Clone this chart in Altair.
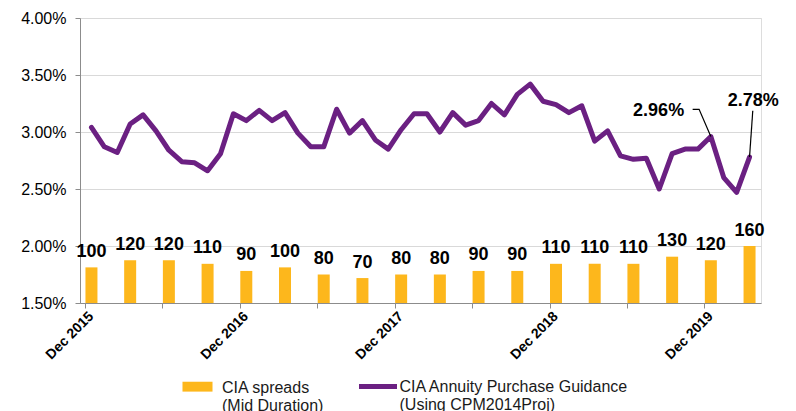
import json
import altair as alt
import pandas as pd

# ---------------- data ----------------
months = pd.date_range("2015-12-01", "2020-03-01", freq="MS")  # 52 monthly points

guidance = [3.04, 2.87, 2.82, 3.07, 3.15, 3.01, 2.84, 2.74, 2.73, 2.66,
            2.81, 3.16, 3.10, 3.19, 3.10, 3.17, 2.99, 2.87, 2.87, 3.20,
            2.99, 3.10, 2.93, 2.85, 3.02, 3.16, 3.16, 3.00, 3.17, 3.06,
            3.10, 3.25, 3.15, 3.33, 3.42, 3.27, 3.24, 3.17, 3.23, 2.92,
            3.01, 2.79, 2.76, 2.77, 2.50, 2.81, 2.85, 2.85, 2.96, 2.60,
            2.47, 2.78]

spread_bps = [100, 120, 120, 110, 90, 100, 80, 70, 80, 80, 90, 90,
              110, 110, 110, 130, 120, 160]          # quarterly, Dec 2015 .. Mar 2020

year_labels = ["Dec 2015", "Dec 2016", "Dec 2017", "Dec 2018", "Dec 2019"]
y_ticks = [1.5, 2.0, 2.5, 3.0, 3.5, 4.0]

series_bar = "CIA spreads|(Mid Duration)"
series_line = "CIA Annuity Purchase Guidance|(Using CPM2014Proj)"

# annotations: leader lines (month index, rate) and label anchors
leader_id = ["a", "a", "a", "b", "b"]
leader_x = [48, 47.09, 46.59, 51, 51.25]
leader_y = [2.96, 3.199, 3.199, 2.78, 3.187]
leader_order = [0, 1, 2, 0, 1]

ann1_x, ann1_y, ann1_text = [46.59], [3.199], ["2.96%"]
ann2_x, ann2_y, ann2_text = [51.25], [3.187], ["2.78%"]

ORANGE = "#FDB71C"
PURPLE = "#6B2082"
FONT = "Liberation Sans"

line_df = pd.DataFrame({"idx": list(range(len(guidance))),
                        "month": months.strftime("%b %Y"),
                        "rate": guidance,
                        "series": series_line})
bar_df = pd.DataFrame({"idx": list(range(0, len(guidance), 3)),
                       "bps": spread_bps,
                       "series": series_bar})
leader_df = pd.DataFrame({"id": leader_id, "idx": leader_x, "rate": leader_y,
                          "o": leader_order})
ann1_df = pd.DataFrame({"idx": ann1_x, "rate": ann1_y, "label": ann1_text})
ann2_df = pd.DataFrame({"idx": ann2_x, "rate": ann2_y, "label": ann2_text})

# ---------------- scales / axes ----------------
label_expr = ("(datum.value + 0.5) % 12 == 0 ? " + json.dumps(year_labels)
              + "[round((datum.value + 0.5) / 12)] : ''")
x_axis = alt.Axis(values=[-0.5 + 6 * k for k in range(9)], labelExpr=label_expr,
                  labelAngle=-45, labelAlign="right", labelBaseline="top",
                  labelOffset=1, labelPadding=1, labelFontSize=14,
                  labelFontWeight="bold", labelOverlap=False, labelFlush=False,
                  tickSize=5, grid=False, title=None, domainColor="#8c8c8c",
                  tickColor="#8c8c8c", labelColor="#000000", labelFont=FONT)
x_scale = alt.Scale(domain=[-0.5, 51.5], nice=False, zero=False)
x_enc = alt.X("idx:Q", scale=x_scale, axis=x_axis)

y_axis = alt.Axis(values=y_ticks, labelExpr="format(datum.value, '.2f') + '%'",
                  orient="left", tickSize=5, labelPadding=9, labelFontSize=16,
                  labelFont=FONT, labelColor="#000000", domainColor="#8c8c8c",
                  tickColor="#8c8c8c", gridColor="#d9d9d9", grid=True, title=None)
y_line = alt.Y("rate:Q", scale=alt.Scale(domain=[1.5, 4.0], nice=False, zero=False),
               axis=y_axis)

# ---------------- bars ----------------
bar_base = alt.Chart(bar_df).encode(
    x=x_enc,
    y=alt.Y("bps:Q", scale=alt.Scale(domain=[0, 800], nice=False), axis=None),
)
bars = bar_base.mark_bar(size=12).encode(
    color=alt.Color("series:N",
                    scale=alt.Scale(domain=[series_bar], range=[ORANGE]),
                    legend=alt.Legend(orient="none", legendX=98.5, legendY=351,
                                      title=None,
                                      symbolType="M-0.79,-0.33H0.79V0.19H-0.79Z",
                                      symbolSize=1444, symbolStrokeWidth=0,
                                      labelExpr="split(datum.label, '|')",
                                      labelFontSize=16, labelFont=FONT,
                                      labelColor="#1a1a1a", labelLimit=400,
                                      labelOffset=5.5))
)
bar_text = bar_base.mark_text(dy=-10.5, baseline="alphabetic", fontSize=18,
                              fontWeight="bold", font=FONT, color="#000000").encode(
    text="bps:Q")
bar_layer = alt.layer(bars, bar_text)

# ---------------- line + annotations ----------------
line = alt.Chart(line_df).mark_line(strokeWidth=5, strokeJoin="round",
                                    strokeCap="round").encode(
    x=x_enc, y=y_line,
    stroke=alt.Stroke("series:N",
                      scale=alt.Scale(domain=[series_line], range=[PURPLE]),
                      legend=alt.Legend(orient="none", legendX=276.5, legendY=347,
                                        title=None, symbolType="M-1,0L1,0",
                                        symbolSize=1444, symbolStrokeWidth=5,
                                        labelExpr="split(datum.label, '|')",
                                        labelFontSize=16, labelFont=FONT,
                                        labelColor="#1a1a1a", labelLimit=400,
                                        labelOffset=0)),
)
leader = alt.Chart(leader_df).mark_line(color="#000000", strokeWidth=1.2).encode(
    x=x_enc, y=y_line, detail="id:N", order="o:Q")
t1 = alt.Chart(ann1_df).mark_text(align="right", baseline="middle", dx=-8.5, dy=1.5,
                                  fontSize=18, fontWeight="bold", font=FONT,
                                  color="#000000").encode(x=x_enc, y=y_line, text="label:N")
t2 = alt.Chart(ann2_df).mark_text(align="center", baseline="middle", dx=0.5, dy=-10,
                                  fontSize=18, fontWeight="bold", font=FONT,
                                  color="#000000").encode(x=x_enc, y=y_line, text="label:N")
line_layer = alt.layer(line, leader, t1, t2)

chart = alt.layer(bar_layer, line_layer).resolve_scale(
    y="independent", color="independent", stroke="independent"
).properties(
    width=681, height=285,
    autosize=alt.AutoSizeParams(type="none"),
    padding={"left": 72, "top": 10, "right": 25, "bottom": 112},
).configure_view(stroke=None).configure(background="white", font=FONT)

chart.save("out.html", embed_options={"renderer": "svg", "actions": False})
